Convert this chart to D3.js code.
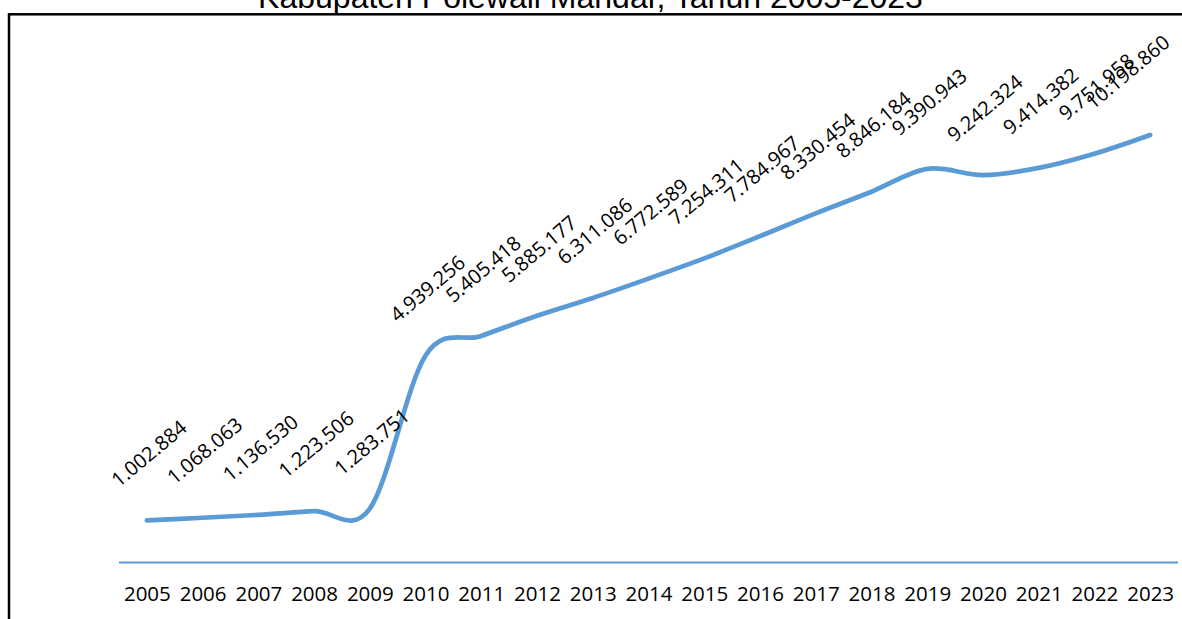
<!DOCTYPE html>
<html>
<head>
<meta charset="utf-8">
<script src="https://cdn.jsdelivr.net/npm/d3@7"></script>
<style>
  body { margin: 0; background: #fff; }
  svg { display: block; }
</style>
</head>
<body>
<svg id="chart" width="1182" height="619"></svg>
<script>
  const width = 1182, height = 619;

  // data
  var years = ["2005","2006","2007","2008","2009","2010","2011","2012","2013","2014",
               "2015","2016","2017","2018","2019","2020","2021","2022","2023"];
  var population = [1002884, 1068063, 1136530, 1223506, 1283751, 4939256, 5405418,
                    5885177, 6311086, 6772589, 7254311, 7784967, 8330454, 8846184,
                    9390943, 9242324, 9414382, 9751958, 10198860];
  var title = "Kabupaten Polewali Mandar, Tahun 2005-2023";

  var rows = years.map((y, i) => ({year: y, value: population[i]}));

  var svg = d3.select("#chart");
  var blue = "#5b9bd5";

  var idFormat = d3.formatLocale({decimal: ",", thousands: ".", grouping: [3], currency: ["", ""]}).format(",d");

  var x = d3.scalePoint()
      .domain(years)
      .range([119, 1178])
      .padding(0.5);

  var y = d3.scaleLinear()
      .domain([0, 12000000])
      .range([562.5, 59.5]);

  // chart border (runs off the right and bottom edge)
  svg.append("rect")
      .attr("x", 9)
      .attr("y", 14.3)
      .attr("width", 1300)
      .attr("height", 800)
      .attr("fill", "none")
      .attr("stroke", "#000")
      .attr("stroke-width", 2.5);

  // title, cut off at the top
  svg.append("text")
      .attr("x", 590.5)
      .attr("y", 7.5)
      .attr("text-anchor", "middle")
      .attr("font-family", "'Liberation Sans', Arial, sans-serif")
      .attr("font-size", 32)
      .attr("fill", "#000")
      .text(title);

  // category axis
  var xAxis = svg.append("g")
      .attr("transform", "translate(0,562.5)")
      .call(d3.axisBottom(x).tickSize(0).tickPadding(0));
  xAxis.select(".domain")
      .attr("d", "M119,0H1178")
      .attr("stroke", blue)
      .attr("stroke-width", 2.2);
  xAxis.selectAll(".tick text")
      .attr("y", 38)
      .attr("dy", null)
      .attr("font-family", "'Open Sans', sans-serif")
      .attr("font-size", 20.5)
      .attr("fill", "#000");

  // smoothed line
  var line = d3.line()
      .x(d => x(d.year))
      .y(d => y(d.value))
      .curve(d3.curveCardinal.tension(0));

  svg.append("path")
      .datum(rows)
      .attr("d", line)
      .attr("fill", "none")
      .attr("stroke", blue)
      .attr("stroke-width", 4.7)
      .attr("stroke-linecap", "round")
      .attr("stroke-linejoin", "round");

  // rotated data labels, pushed back inside the plot area when they overflow
  var labelPos = d => [x(d.year) + 2, y(d.value) - 67];
  svg.append("g")
      .selectAll("text")
      .data(rows)
      .join("text")
        .attr("transform", d => "translate(" + labelPos(d) + ") rotate(-40)")
        .attr("text-anchor", "middle")
        .attr("dy", "0.36em")
        .attr("font-family", "'Open Sans', sans-serif")
        .attr("font-size", 20)
        .attr("fill", "#000")
        .text(d => idFormat(d.value))
        .each(function(d) {
          var r = this.getBoundingClientRect();
          var over = r.right - 1175;
          if (over > 0) {
            var p = labelPos(d);
            d3.select(this).attr("transform",
              "translate(" + (p[0] - over) + "," + (p[1] + 4) + ") rotate(-40)");
          }
        });
</script>
</body>
</html>
